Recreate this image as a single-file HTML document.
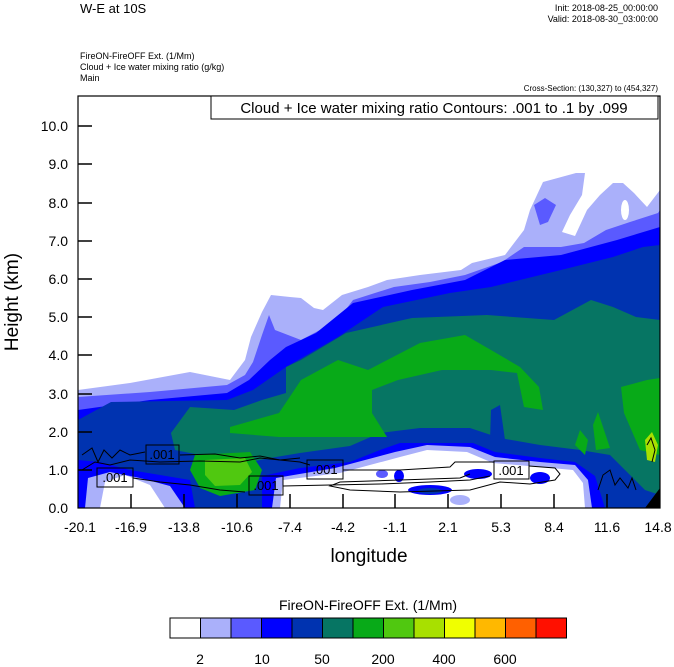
<!DOCTYPE html>
<html><head><meta charset="utf-8"><style>
html,body{margin:0;padding:0;background:#fff}
svg{display:block;font-family:"Liberation Sans",sans-serif}
</style></head><body>
<svg width="674" height="667" viewBox="0 0 674 667" xmlns="http://www.w3.org/2000/svg">
<rect width="674" height="667" fill="#fff"/>
<text x="80" y="13" font-size="13">W-E at 10S</text>
<text x="658" y="11" font-size="9" text-anchor="end">Init: 2018-08-25_00:00:00</text>
<text x="658" y="22" font-size="9" text-anchor="end">Valid: 2018-08-30_03:00:00</text>
<text x="80" y="59" font-size="9">FireON-FireOFF Ext.   (1/Mm)</text>
<text x="80" y="70" font-size="9">Cloud + Ice water mixing ratio   (g/kg)</text>
<text x="80" y="81" font-size="9">Main</text>
<text x="658" y="91" font-size="8" text-anchor="end">Cross-Section: (130,327) to (454,327)</text>

<clipPath id="c"><rect x="78" y="96" width="582" height="412"/></clipPath>
<g clip-path="url(#c)">
<polygon fill="#aab0fa" points="78,390 130,383 190,372 230,380 245,360 251,337 262,312 271,295 290,297 301,298 314,308 323,310 342,295 368,287 387,280 420,275 461,270 472,263 505,255 524,230 530,210 543,182 576,173 585,173 582,195 570,215 562,232 575,236 587,210 600,195 613,183 623,183 634,193 647,207 660,190 660,508 78,508"/>
<ellipse cx="625" cy="210" rx="4" ry="10" fill="#fff"/>
<polygon fill="#5a5aff" points="534,205 545,198 556,205 548,222 540,225"/>
<polygon fill="#5a5aff" points="78,397 150,392 227,385 245,375 253,362 262,335 269,315 275,330 301,340 320,330 338,320 353,300 394,287 430,282 465,275 502,262 524,247 561,247 584,243 606,230 630,222 658,213 660,210 660,508 78,508"/>
<polygon fill="#0000ff" points="78,410 150,400 227,393 249,380 270,360 286,347 316,333 353,303 412,290 465,280 505,260 561,255 617,240 660,227 660,508 78,508"/>
<polygon fill="#0033b0" points="78,420 111,402 227,400 253,390 286,367 338,337 383,307 450,293 491,287 561,270 613,257 643,247 660,245 660,508 78,508"/>
<polygon fill="#067563" points="171,433 190,407 234,410 262,400 286,393 286,367 301,360 346,333 412,318 487,315 554,320 591,300 613,307 636,317 660,320 660,495 645,490 625,470 610,455 580,450 540,445 500,438 470,428 420,428 380,433 350,446 300,453 270,458 250,462 200,455 175,450"/>
<polygon fill="#0033b0" points="491,410 500,405 505,440 490,440"/>
<polygon fill="#08aa18" points="230,427 279,413 301,380 338,360 368,370 420,343 465,335 491,350 520,367 539,387 543,410 524,407 517,373 491,370 442,370 398,380 372,390 372,413 387,437 338,437 279,437 230,433"/>
<polygon fill="#08aa18" points="621,387 647,380 660,378 660,455 640,450 624,413"/>
<polygon fill="#08aa18" points="575,445 580,430 588,440 585,455"/>
<polygon fill="#08aa18" points="593,425 598,412 604,430 610,448 596,450"/>
<polygon fill="#08aa18" points="195,455 250,452 262,470 255,490 220,496 200,488 190,470"/>
<polygon fill="#50c810" points="205,460 245,458 252,472 240,485 215,486 205,475"/>
<polygon fill="#a8e000" points="645,440 652,432 658,445 655,462 647,460"/>
<polygon fill="#0000ff" points="262,508 262,476 300,468 350,462 380,450 400,443 473,443 495,452 540,458 575,462 595,476 605,508"/>
<polygon fill="#aab0fa" points="272,508 276,478 335,468 395,452 427,445 470,447 495,457 540,462 575,465 588,480 592,508"/>
<polygon fill="#fff" points="280,508 283,480 340,473 400,457 427,450 467,452 493,463 540,467 573,470 583,483 585,508"/>
<polygon fill="#0000ff" points="78,508 78,460 100,462 130,470 160,475 190,480 195,508"/>
<polygon fill="#aab0fa" points="85,508 88,478 110,472 140,478 170,486 185,508"/>
<polygon fill="#fff" points="100,508 105,482 125,475 150,485 165,508"/>
<ellipse cx="430" cy="490" rx="22" ry="5" fill="#0000ff"/>
<ellipse cx="430" cy="491" rx="12" ry="3" fill="#0033b0"/>
<ellipse cx="399" cy="476" rx="5" ry="6" fill="#0000ff"/>
<ellipse cx="382" cy="474" rx="6" ry="4" fill="#5a5aff"/>
<ellipse cx="478" cy="474" rx="14" ry="5" fill="#0000ff"/>
<ellipse cx="540" cy="478" rx="10" ry="6" fill="#0000ff"/>
<ellipse cx="460" cy="500" rx="10" ry="5" fill="#aab0fa"/>
<polygon fill="#000" points="645,508 660,488 660,508"/>
</g>

<g fill="none" stroke="#000" stroke-width="1">
<polyline points="82,455 92,448 98,462 104,450 112,458 120,450 130,455 145,452"/>
<polyline points="82,470 95,462 110,465 130,460 160,462 200,461 240,462 260,458 300,462 310,465"/>
<polyline points="180,455 215,454 240,458 260,456 280,460 300,458"/>
<polyline points="133,478 160,482 190,485 220,490 245,492"/>
<polyline points="283,486 330,485 380,484 430,482 470,480 490,476"/>
<path d="M343,470 L400,470 L450,467 L455,462 L494,462 M529,466 L555,468 L560,474 L555,480 L530,484 L500,482 L470,490 L400,492 L350,490 L330,486 L340,482 L400,480 L460,478 L470,474"/>
<polyline points="598,490 603,475 610,470 615,485 620,478 628,488 632,478 636,490"/>
<polyline points="647,445 651,438 655,450 652,462"/>
</g>
<g font-size="13" text-anchor="middle">
<rect x="146" y="445" width="33" height="19" fill="none" stroke="#000"/><text x="162" y="459">.001</text>
<rect x="97" y="468" width="36" height="19" fill="none" stroke="#000"/><text x="115" y="482">.001</text>
<rect x="249" y="476" width="34" height="19" fill="none" stroke="#000"/><text x="266" y="490">.001</text>
<rect x="307" y="460" width="36" height="19" fill="none" stroke="#000"/><text x="325" y="474">.001</text>
<rect x="494" y="461" width="35" height="18" fill="none" stroke="#000"/><text x="511" y="475">.001</text>
</g>

<rect x="78" y="96" width="582" height="412" fill="none" stroke="#000" stroke-width="1.2"/>
<rect x="211" y="96" width="447" height="23" fill="#fff" stroke="#000"/>
<text x="434" y="113" font-size="15" text-anchor="middle">Cloud + Ice water mixing ratio Contours: .001 to .1 by .099</text>

<g stroke="#000" stroke-width="1.5">
<line x1="78" y1="470" x2="92" y2="470"/><line x1="78" y1="432" x2="92" y2="432"/><line x1="78" y1="394" x2="92" y2="394"/><line x1="78" y1="355" x2="92" y2="355"/><line x1="78" y1="317" x2="92" y2="317"/><line x1="78" y1="279" x2="92" y2="279"/><line x1="78" y1="241" x2="92" y2="241"/><line x1="78" y1="203" x2="92" y2="203"/><line x1="78" y1="164" x2="92" y2="164"/><line x1="78" y1="126" x2="92" y2="126"/>
<line x1="131" y1="508" x2="131" y2="494"/><line x1="184" y1="508" x2="184" y2="494"/><line x1="237" y1="508" x2="237" y2="494"/><line x1="290" y1="508" x2="290" y2="494"/><line x1="343" y1="508" x2="343" y2="494"/><line x1="395" y1="508" x2="395" y2="494"/><line x1="448" y1="508" x2="448" y2="494"/><line x1="501" y1="508" x2="501" y2="494"/><line x1="554" y1="508" x2="554" y2="494"/><line x1="607" y1="508" x2="607" y2="494"/>
</g>
<g font-size="14" text-anchor="end">
<text x="68" y="513">0.0</text><text x="68" y="475">1.0</text><text x="68" y="437">2.0</text><text x="68" y="399">3.0</text><text x="68" y="360">4.0</text><text x="68" y="322">5.0</text><text x="68" y="284">6.0</text><text x="68" y="246">7.0</text><text x="68" y="208">8.0</text><text x="68" y="169">9.0</text><text x="68" y="131">10.0</text>
</g>
<g font-size="14" text-anchor="middle">
<text x="80" y="532">-20.1</text><text x="131" y="532">-16.9</text><text x="184" y="532">-13.8</text><text x="237" y="532">-10.6</text><text x="290" y="532">-7.4</text><text x="343" y="532">-4.2</text><text x="395" y="532">-1.1</text><text x="448" y="532">2.1</text><text x="501" y="532">5.3</text><text x="554" y="532">8.4</text><text x="607" y="532">11.6</text><text x="658" y="532">14.8</text>
</g>
<text x="369" y="562" font-size="19" text-anchor="middle">longitude</text>
<text transform="translate(18,302) rotate(-90)" font-size="19" text-anchor="middle">Height (km)</text>

<text x="368" y="610" font-size="14" text-anchor="middle">FireON-FireOFF Ext.  (1/Mm)</text>
<g stroke="#000" stroke-width="1">
<rect x="170" y="618" width="30.5" height="20" fill="#fff"/>
<rect x="200.5" y="618" width="30.5" height="20" fill="#aab0fa"/>
<rect x="231" y="618" width="30.5" height="20" fill="#5a5aff"/>
<rect x="261.5" y="618" width="30.5" height="20" fill="#0000ff"/>
<rect x="292" y="618" width="30.5" height="20" fill="#0033b0"/>
<rect x="322.5" y="618" width="30.5" height="20" fill="#067563"/>
<rect x="353" y="618" width="30.5" height="20" fill="#08aa18"/>
<rect x="383.5" y="618" width="30.5" height="20" fill="#50c810"/>
<rect x="414" y="618" width="30.5" height="20" fill="#a8e000"/>
<rect x="444.5" y="618" width="30.5" height="20" fill="#f0ff00"/>
<rect x="475" y="618" width="30.5" height="20" fill="#ffb800"/>
<rect x="505.5" y="618" width="30.5" height="20" fill="#ff6000"/>
<rect x="536" y="618" width="30.5" height="20" fill="#ff1000"/>
</g>
<g font-size="14" text-anchor="middle">
<text x="200" y="664">2</text><text x="262" y="664">10</text><text x="322" y="664">50</text><text x="383" y="664">200</text><text x="444" y="664">400</text><text x="505" y="664">600</text>
</g>
</svg>
</body></html>
